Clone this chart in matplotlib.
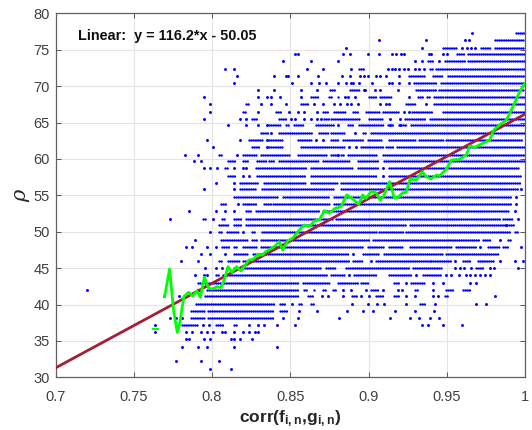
import matplotlib
matplotlib.use("Agg")
import matplotlib.pyplot as plt

plt.rcParams['font.family'] = ['Liberation Sans', 'DejaVu Sans']
plt.rcParams['mathtext.fontset'] = 'custom'
plt.rcParams['mathtext.rm'] = 'Liberation Sans:bold'
plt.rcParams['mathtext.bf'] = 'Liberation Sans:bold'
plt.rcParams['mathtext.it'] = 'DejaVu Serif:italic'

# rho is quantised, one level per row of dots
rho_levels = [
    31.2, 32.2, 33.2, 34.2, 35.2, 36.2, 37.2, 38.1, 39.1, 40.1, 41.1, 42.0,
    43.0, 44.0, 45.0, 46.0, 47.0, 47.9, 48.9, 49.9, 50.9, 51.8, 52.8, 53.8,
    54.8, 55.8, 56.7, 57.7, 58.7, 59.7, 60.6, 61.6, 62.6, 63.6, 64.6, 65.5,
    66.5, 67.5, 68.5, 69.5, 70.4, 71.4, 72.4, 73.4, 74.4, 75.3, 76.3, 77.3,
]

# isolated dots on each level, lowest level first
row_dots = [
    [.7987, .8121],
    [.7771, .7928, .8042],
    [],
    [.7811, .7909, .7966, .8142, .8415],
    [.7831, .7852, .7947, .7987, .8121, .8142, .818, .8258],
    [.7633, .7831, .7871, .7928, .7966, .8004, .8064, .8085, .8142, .8199, .8237, .8275, .8297],
    [.7633, .7945, .7983, .8237, .8297, .8333, .8415, .8532, .9343, .938, .9474, .9595],
    [.7729, .7771, .7809, .8456, .8547, .881, .914, .9267, .9322, .939, .9448],
    [.8554, .8669, .8863, .8964, .9028, .9168, .9294, .942],
    [.8511, .8895, .8995, .9053, .9096, .9241, .9422, .9685, .9753],
    [.7693, .7792, .8701, .8739, .884, .8953, .9006, .9241, .9294, .9412, .9444, .9807],
    [.7199, .7909, .7919, .884, .8889, .8985, .9092, .9188, .9215, .9412],
    [.9241, .9412, .9476, .9646, .9689],
    [.789, .7947, .7966, .8878, .9305, .9497, .9529, .9578, .9625, .9651, .9678, .971, .9742, .9774],
    [.7956, .8025, .8064, .8102, .955, .9582, .9608, .9657, .9774, .98, .9956],
    [.7805, .7909, .9017, .955, .9838, .9934, .9988],
    [.7928, .7987, .8085, .89],
    [.7831, .7871, .7966, .8025, .9715, .9977],
    [.789, .9838],
    [.7987, .8201],
    [.9881],
    [.7733, .8006, .9956],
    [.785, .8025, .808, .814, .9934],
    [.8163, .9941],
    [.9941],
    [.7947, .8142, .9977],
    [.8025, .8142],
    [.8237, .8201, .9092],
    [.7947, .7987, .8032, .8142, .8195, .8216, .9092],
    [.7888, .7928],
    [.783, .7909, .8161, .8803],
    [.8006, .8354, .8878, .892],
    [.7966, .818, .8354, .8664, .8707],
    [.8376, .8916],
    [.8102, .822, .8297, .8354, .8803, .9139, .9204],
    [.7947, .818, .822, .8504, .853, .859, .8632, .8669, .8696, .9139, .9204],
    [.7987, .8297, .8494, .8547, .859, .8669, .923, .926],
    [.7987, .8316, .8376, .8472, .865, .8707, .878, .882, .886, .889, .893, .9074, .911, .9134, .9369],
    [.7947, .8297, .8352, .8376, .8434, .857, .8852, .8867, .8916, .926],
    [.8297, .8395, .857, .867, .9044, .9074, .9187, .897, .898],
    [.8142, .851, .863, .8686, .8728, .8807, .8856, .8888, .8903, .8937, .902, .9134, .915, .9198, .926],
    [.8161, .8395, .8472, .8483, .855, .868, .883, .888, .8946, .897, .8995, .9048, .9074, .911, .9198],
    [.8083, .8142, .861, .8707, .889, .9123, .9149, .9172, .9198, .9226, .9255, .9294, .932, .9354],
    [.8453, .863, .8807, .9294, .9345, .945],
    [.853, .855, .884, .888, .8997, .907, .9147, .9176, .9206, .9228, .9386, .9397, .9475, .95],
    [.8856, .934, .96, .963, .9657, .968],
    [.9066, .9366, .9614, .964],
    [.966],
]

# stretches where the dots merge into a band, lowest level first
row_runs = [
    [], [], [], [], [],
    [],
    [(.7809, .7915), (.8025, .8068), (.8142, .8163)],
    [(.7867, .7951), (.7975, .8398)],
    [(.7867, .7951), (.7975, .8398), (.8434, .8477)],
    [(.7898, .8398), (.8434, .8473), (.8554, .8575), (.8633, .8654), (.9326, .9365)],
    [(.7956, .8558), (.8611, .8654), (.8895, .8925), (.9049, .9102), (.9162, .9198), (.9486, .9508)],
    [(.7966, .8547), (.859, .8611), (.8654, .8665), (.8707, .8729), (.8771, .8793), (.9017, .906),
     (.9299, .9316), (.9497, .954), (.9604, .9657)],
    [(.7909, .793), (.7956, .8558), (.858, .875), (.8803, .8942), (.8953, .8995), (.9166, .9198), (.9273, .9369)],
    [(.8025, .8047), (.8072, .8739), (.876, .8846), (.891, .9049), (.9134, .9273), (.9348, .9465)],
    [(.8142, .8697), (.8729, .8793), (.8857, .9262), (.9284, .9465), (.9689, .9732)],
    [(.8042, .8072), (.8102, .8174), (.8201, .8878), (.89, .8964), (.9049, .939), (.9401, .9529),
     (.9604, .9646), (.97, .9806)],
    [(.8142, .8237), (.8265, .8867), (.8964, .907), (.9102, .9476), (.9497, .9828)],
    [(.8064, .811), (.8138, .8163), (.8195, .829), (.8311, .8964), (.8995, .9102), (.9134, .923),
     (.9262, .9529), (.9561, .9689), (.9764, .9838), (.986, .9892)],
    [(.8057, .8227), (.8254, .829), (.8311, .9006), (.9028, .971), (.9732, .9774), (.9892, .9913)],
    [(.8047, .8072), (.8095, .8174), (.8254, .8284), (.8322, .9049), (.907, .922), (.9241, .9902), (.9934, .9956)],
    [(.8042, .811), (.8138, .8184), (.8216, .9241), (.9262, .9934)],
    [(.7945, .7966), (.8064, .8089), (.8138, .8184), (.8216, .8771), (.8793, .9838), (.986, .9924)],
    [(.8216, .8248), (.828, .8686), (.8707, .9902)],
    [(.8057, .8089), (.8195, .8227), (.8237, .829), (.8333, .8376), (.8387, .875), (.8782, .9913)],
    [(.8142, .842), (.8451, .875), (.8782, .9913)],
    [(.8178, .829), (.8322, .8771), (.8825, .9956)],
    [(.8178, .83), (.8333, .8601), (.8633, .8803), (.8825, .9977)],
    [(.8102, .8144), (.829, .8601), (.8633, .9049), (.9134, .9977)],
    [(.8085, .8106), (.828, .8601), (.8633, .891), (.8931, .906), (.9134, .9966)],
    [(.8102, .8144), (.8201, .8237), (.829, .8343), (.8366, .8398), (.843, .8686), (.8707, .8878),
     (.8931, .907), (.9102, 1.0)],
    [(.8042, .8064), (.8195, .8284), (.8311, .8494), (.8547, .8739), (.876, .8803), (.8824, .8852),
     (.8867, .906), (.909, 1.0)],
    [(.8258, .83), (.8366, .846), (.8568, .875), (.876, .8856), (.8952, .91), (.911, .9155), (.918, 1.0)],
    [(.8237, .8322), (.8366, .846), (.8547, .8632), (.876, .8803), (.8835, .8974), (.8995, .909),
     (.9134, .9305), (.932, .9475), (.9497, .9987)],
    [(.8311, .8364), (.843, .8643), (.8686, .874), (.876, .8846), (.8963, .8984), (.9016, 1.0)],
    [(.8366, .844), (.8472, .8494), (.8526, .858), (.8664, .878), (.8867, .891), (.894, .91), (.9127, .916),
     (.9198, .924), (.9273, 1.0)],
    [(.8258, .8297), (.843, .848), (.8718, .8745), (.876, .8952), (.9, .91), (.9236, .9369), (.939, 1.0)],
    [(.8195, .822), (.8408, .844), (.8707, .875), (.878, .885), (.89, .893), (.8984, .907), (.909, .9198),
     (.928, .941), (.9475, 1.0)],
    [(.8216, .8237), (.8568, .8617), (.924, .9305), (.942, 1.0)],
    [(.863, .8675), (.8745, .8775), (.8803, .882), (.9, .9053), (.9074, .9144), (.9315, .9347), (.9375, .94),
     (.942, .9475), (.9486, 1.0)],
    [(.8756, .879), (.888, .8937), (.9305, .9433), (.945, 1.0)],
    [(.929, .9433), (.9465, 1.0)],
    [(.926, .937), (.941, .9475), (.9507, 1.0)],
    [(.894, .897), (.939, .941), (.9433, 1.0)],
    [(.938, .942), (.949, .9614), (.9635, 1.0)],
    [(.9567, .9614), (.9635, 1.0)],
    [(.9475, .957), (.972, .978), (.9806, 1.0)],
    [(.981, 1.0)],
    [(.9945, 1.0)],
]

# moving average of the cloud
mean_corr = [
    .7697, .7729, .7754, .7778, .7792, .782, .785, .7877, .7903, .7926, .7951, .7979, .8004,
    .8032, .8057, .8078, .8102, .8127, .8157, .8184, .8212, .8237, .8263, .829, .8322, .8343,
    .8364, .8398, .843, .8451, .8483, .8515, .8558, .859, .8622, .8654, .8686, .8703, .8718,
    .875, .8786, .8824, .8861, .8899, .8937, .8963, .8984, .9016, .9048, .9074, .9095, .9134,
    .9166, .9194, .9219, .924, .9266, .9305, .9343, .9369, .9401, .9433, .9454, .9497, .9529,
    .9582, .9625, .9646, .9678, .9731, .9774, .98, .9838, .9881, .9923, .9966, 1.0,
]
mean_rho = [
    41.08, 44.88, 39.25, 36.18, 37.19, 41.08, 41.68, 41.17, 41.86, 40.99, 43.74, 42.23, 42.13,
    42.45, 42.32, 43.37, 45.2, 44.42, 45.2, 44.61, 45.43, 46.12, 46.21, 46.8, 46.8, 47.26,
    47.5, 47.95, 48.64, 47.49, 48.73, 49.1, 50.25, 50.93, 50.7, 51.48, 51.62, 52.3, 52.89,
    52.53, 53.21, 53.44, 55.05, 54.5, 53.76, 55.05, 54.59, 55.5, 55.37, 54.36, 54.82, 56.88,
    54.59, 54.82, 55.37, 55.37, 57.24, 57.11, 58.25, 57.56, 57.24, 57.79, 57.7, 58.57, 59.85,
    59.95, 60.54, 61.78, 61.59, 62.14, 62.6, 63.97, 64.66, 65.35, 67.18, 69.24, 70.38,
]
stub_corr = [.7625, .7655]
stub_rho = [36.6, 36.6]

fit_slope = 116.2
fit_intercept = -50.05
fit_corr = [0.7, 1.0]

x_ticks = [0.7, 0.75, 0.8, 0.85, 0.9, 0.95, 1.0]
x_labels = ["0.7", "0.75", "0.8", "0.85", "0.9", "0.95", "1"]
y_ticks = [30, 35, 40, 45, 50, 55, 60, 65, 70, 75, 80]

fig = plt.figure(figsize=(5.32, 4.30), dpi=100)
ax = fig.add_axes([55.5 / 532, 1 - 377.3 / 430, 469.5 / 532, 364 / 430])

for level, dots, runs in zip(rho_levels, row_dots, row_runs):
    ax.scatter(dots, [level] * len(dots), s=4.5, c="#0000ff", linewidths=0, zorder=3)
    for start, end in runs:
        ax.hlines(level, start, end, colors="#0000ff", linewidth=1.8,
                  linestyles=(0, (0.01, 0.85)), capstyle="round", zorder=3)

ax.plot(fit_corr, [fit_slope * c + fit_intercept for c in fit_corr], color="#a51d37", lw=2, zorder=4)
ax.plot(mean_corr, mean_rho, color="#00ff00", lw=2, zorder=5)
ax.plot(stub_corr, stub_rho, color="#00ff00", lw=1.5, zorder=5)

ax.set_xlim(0.7, 1.0)
ax.set_ylim(30, 80)
ax.set_xticks(x_ticks)
ax.set_xticklabels(x_labels)
ax.set_yticks(y_ticks)
ax.grid(True, color="#e4e4e4", lw=0.8)
ax.set_axisbelow(True)
ax.tick_params(direction="in", length=3.5, width=0.7, color="#555555", labelcolor="#404040",
               labelsize=10.5, top=True, right=True)
ax.tick_params(axis="x", pad=9)
ax.tick_params(axis="y", pad=4)
for spine in ax.spines.values():
    spine.set_color("#606060")
    spine.set_linewidth(0.9)

ax.text(0.7145, 76.9, "Linear:  y = 116.2*x - 50.05", fontsize=10.4, fontweight="bold", color="#111111", va="center")
ax.set_xlabel(r"corr(f$_{\mathbf{i,n}}$,g$_{\mathbf{i,n}}$)", fontsize=12.5, fontweight="bold", color="#262626", labelpad=3)
ax.set_ylabel(r"$\rho$", fontsize=15, color="#262626", labelpad=1)

fig.savefig("out.png", dpi=100)
plt.close(fig)
